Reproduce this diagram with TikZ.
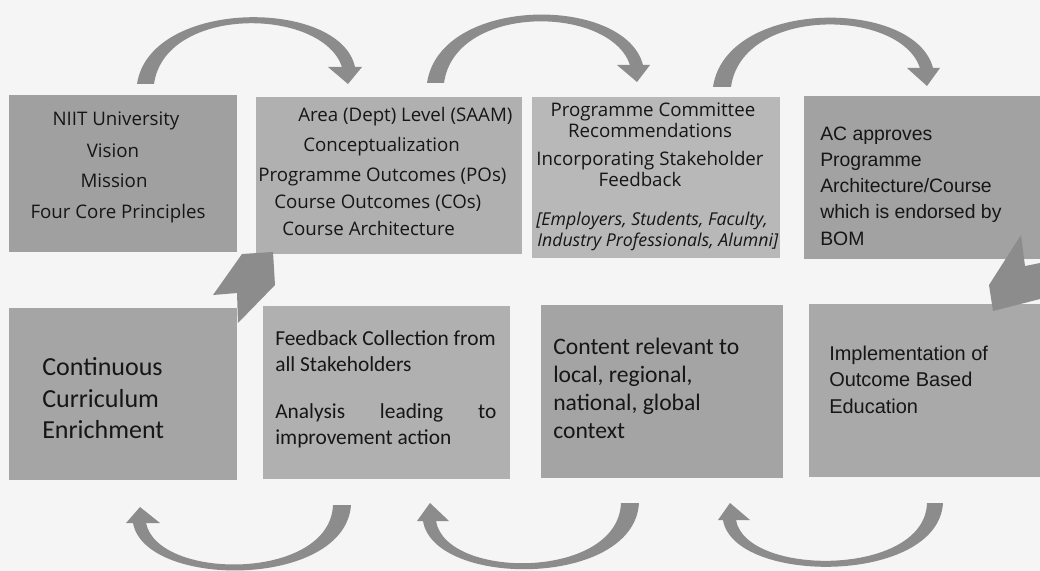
\documentclass[tikz,border=0pt]{standalone}
\usepackage{fontspec}
\setmainfont{Open Sans}
\newfontfamily\calfont{Carlito}
\newfontfamily\aptfont{Liberation Sans}
\usetikzlibrary{fit}
\definecolor{bgc}{HTML}{F5F5F5}
\definecolor{arrc}{HTML}{8C8C8C}
\definecolor{txt}{HTML}{161616}
\definecolor{cA}{HTML}{A0A0A0}
\definecolor{cB}{HTML}{B0B0B0}
\definecolor{cC}{HTML}{B8B8B8}
\definecolor{cD}{HTML}{A2A2A2}
\definecolor{cE}{HTML}{A5A5A5}
\definecolor{cF}{HTML}{B0B0B0}
\definecolor{cG}{HTML}{A4A4A4}
\definecolor{cH}{HTML}{A9A9A9}
\begin{document}
\begin{tikzpicture}[x=0.025cm,y=-0.025cm,
  box/.style={rectangle, draw=none, inner sep=0pt, fill=#1},
  blockarrow/.style={fill=arrc, draw=none},
  tx/.style={text=txt, inner sep=0pt, font=\fontsize{13.3}{16}\selectfont},
  txi/.style={text=txt, inner sep=0pt, font=\fontsize{12.6}{15}\selectfont\itshape},
  tcal/.style={text=txt, inner sep=0pt, anchor=mid west, font=\calfont\fontsize{#1}{#1}\selectfont},
  tapt/.style={text=txt, inner sep=0pt, anchor=mid west, font=\aptfont\fontsize{#1}{16}\selectfont}]
% canvas
\fill[bgc] (0,0) rectangle (1040,571);
\useasboundingbox (0,0) rectangle (1040,571);

% boxes
\node[box=cA, fit={(9,95) (237,252)}] (b1) {};
\node[box=cB, fit={(256,97) (522,254)}] (b2) {};
\node[box=cC, fit={(532,97) (780,258)}] (b3) {};
\node[box=cD, fit={(804,96) (1040,259)}] (b4) {};
\node[box=cE, fit={(9,308) (237,480)}] (b5) {};
\node[box=cF, fit={(263,306) (510,479)}] (b6) {};
\node[box=cG, fit={(541,305) (783,478)}] (b7) {};
\node[box=cH, fit={(809,304) (1040,477)}] (b8) {};

% box 1 text
\node[tx, anchor=mid] (t11) at (116,122) {NIIT University};
\node[tx, anchor=mid] (t12) at (113,154) {Vision};
\node[tx, anchor=mid] (t13) at (114,184) {Mission};
\node[tx, anchor=mid] (t14) at (118,215) {Four Core Principles};

% box 2 text
\node[tx, anchor=mid west] (t21) at (298,118) {Area (Dept) Level (SAAM)};
\node[tx, anchor=mid west] (t22) at (303,148) {Conceptualization};
\node[tx, anchor=mid west] (t23) at (258,178) {Programme Outcomes (POs)};
\node[tx, anchor=mid west] (t24) at (274,205) {Course Outcomes (COs)};
\node[tx, anchor=mid west] (t25) at (282,232) {Course Architecture};

% box 3 text
\node[tx, anchor=mid] (t31) at (653,113) {Programme Committee};
\node[tx, anchor=mid] (t32) at (650,134) {Recommendations};
\node[tx, anchor=mid] (t33) at (650,162) {Incorporating Stakeholder};
\node[tx, anchor=mid] (t34) at (640,183) {Feedback};
\node[txi, anchor=mid west] (t35) at (536,222) {[Employers, Students, Faculty,};
\node[txi, anchor=mid west] (t36) at (537,243) {Industry Professionals, Alumni]};

% box 4 text
\node[tapt=13.8] (t41) at (820,137) {AC approves};
\node[tapt=13.8] (t42) at (820,163) {Programme};
\node[tapt=13.8] (t43) at (820,189) {Architecture/Course};
\node[tapt=13.8] (t44) at (820,215) {which is endorsed by};
\node[tapt=13.8] (t45) at (820,242) {BOM};

% box 5 text
\node[tcal=18.5] (t51) at (42,372) {Continuous};
\node[tcal=18.5] (t52) at (42,404) {Curriculum};
\node[tcal=18.5] (t53) at (42,435) {Enrichment};

% box 6 text
\node[tcal=15.2] (t61) at (275,342) {Feedback Collection from};
\node[tcal=15.2] (t62) at (275,368) {all Stakeholders};
\node[tcal=15.2] (t63) at (275,415) {\makebox[5.525cm][s]{Analysis leading to}};
\node[tcal=15.2] (t64) at (275,441) {improvement action};

% box 7 text
\node[tcal=16.8] (t71) at (553,351) {Content relevant to};
\node[tcal=16.8] (t72) at (553,379) {local, regional,};
\node[tcal=16.8] (t73) at (553,407) {national, global};
\node[tcal=16.8] (t74) at (553,435) {context};

% box 8 text
\node[tapt=14.2] (t81) at (829,357) {Implementation of};
\node[tapt=14.2] (t82) at (829,383) {Outcome Based};
\node[tapt=14.2] (t83) at (829,410) {Education};

% top curved arrows
\fill[blockarrow] (137,84) .. controls (150,-2) and (340,-2) .. (355,67)
  -- (362,67) -- (348,84) -- (328,67) -- (342,67)
  .. controls (322,7) and (165,5) .. (154,84) -- cycle;
\fill[blockarrow] (427,83) .. controls (440,-5) and (625,-5) .. (643,65)
  -- (650,65) -- (637,82) -- (617,65) -- (630,65)
  .. controls (610,5) and (455,3) .. (444,83) -- cycle;
\fill[blockarrow] (713,87) .. controls (726,-2) and (915,-2) .. (933,68)
  -- (940,68) -- (927,86) -- (907,68) -- (920,68)
  .. controls (900,8) and (742,6) .. (731,87) -- cycle;

% bottom curved arrows
\fill[blockarrow] (351,505) .. controls (345,589) and (145,589) .. (133,523)
  -- (126,523) -- (140,507) -- (160,523) -- (146,523)
  .. controls (158,581) and (330,581) .. (333,505) -- cycle;
\fill[blockarrow] (639,503) .. controls (634,588) and (434,588) .. (423,521)
  -- (417,521) -- (430,503) -- (449,521) -- (436,521)
  .. controls (446,580) and (618,580) .. (621,503) -- cycle;
\fill[blockarrow] (943,503) .. controls (938,585) and (734,585) .. (723,520)
  -- (718,520) -- (730,503) -- (750,520) -- (736,520)
  .. controls (746,577) and (925,577) .. (927,503) -- cycle;

% chevron arrows
\fill[blockarrow] (213,295) -- (242,254) -- (273,252) -- (275,285) -- (238,323) -- (237,293) -- cycle;
\fill[blockarrow] (1021,235) -- (989,285) -- (993,311) -- (1040,299) -- (1040,263) -- (1025,266) -- cycle;
\end{tikzpicture}
\end{document}
